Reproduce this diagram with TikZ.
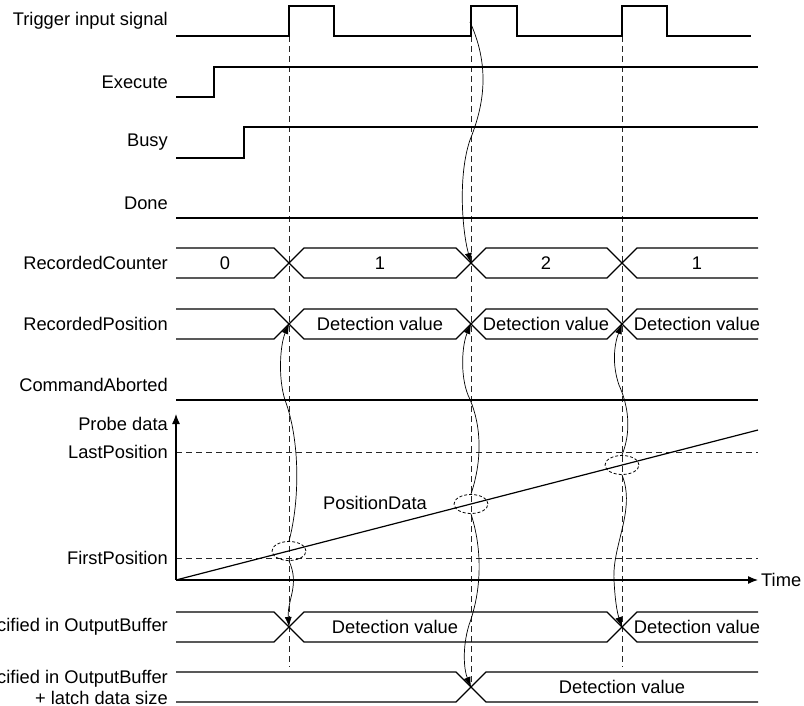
\documentclass[tikz,border=0pt]{standalone}
\usepackage{fontspec}
\setmainfont{Liberation Sans}
\usetikzlibrary{shapes.geometric}
\usetikzlibrary{arrows.meta}
\usetikzlibrary{positioning}

\begin{document}
\begin{tikzpicture}[x=1pt, y=-1pt, font=\fontsize{18.3}{21}\selectfont,
    sig/.style={line width=1.2pt},
    lbl/.style={anchor=east, inner sep=0pt},
    guide/.style={dash pattern=on 6pt off 4pt, line width=0.8pt, black!85},
    wave/.style={-{Latex[length=10pt, width=7pt]}, line width=0.7pt},
    spot/.style={ellipse, draw, dash pattern=on 3pt off 2pt, line width=0.8pt, minimum width=34pt, minimum height=19pt, inner sep=0pt}]
  \useasboundingbox (0,0) rectangle (804,706);

  % signal names
  \node[lbl] (trig) at (168,21) {Trigger input signal};
  \node[lbl] (exec) at (168,82) {Execute};
  \node[lbl] (busy) at (168,142) {Busy};
  \node[lbl] (done) at (168,203) {Done};
  \node[lbl] (cnt) at (168,263) {RecordedCounter};
  \node[lbl] (pos) at (168,324) {RecordedPosition};
  \node[lbl] (abort) at (168,385) {CommandAborted};
  \node[lbl] (probe) at (168,424) {Probe data};
  \node[lbl] (lastpos) at (168,452) {LastPosition};
  \node[lbl] (firstpos) at (168,558) {FirstPosition};
  \node[lbl] (obuf) at (168,627) {Specified in OutputBuffer};
  \node[lbl, align=right] (obuflatch) at (168,687) {Specified in OutputBuffer\\+ latch data size};

  % guides
  \foreach \x/\e in {289/667, 471/687, 622/667}
    \draw[guide] (\x,36) -- (\x,\e);
  \draw[guide] (176,452) -- (758,452);
  \draw[guide] (176,558) -- (758,558);

  % bit signals
  \draw[sig] (176,36) -- (289,36) -- (289,6) -- (334,6) -- (334,36) -- (471,36) -- (471,6) -- (517,6) -- (517,36)
    -- (622,36) -- (622,6) -- (667,6) -- (667,36) -- (751,36);
  \draw[sig] (176,97) -- (214,97) -- (214,67) -- (758,67);
  \draw[sig] (176,158) -- (244,158) -- (244,127) -- (758,127);
  \draw[sig] (176,218) -- (758,218);
  \draw[sig] (176,400) -- (758,400);

  % buses
  \foreach \t in {248,309} {
    \draw[sig] (176,\t) -- (274,\t) -- (304,\t+30) -- (456,\t+30) -- (486,\t) -- (607,\t) -- (637,\t+30) -- (758,\t+30);
    \draw[sig] (176,\t+30) -- (274,\t+30) -- (304,\t) -- (456,\t) -- (486,\t+30) -- (607,\t+30) -- (637,\t) -- (758,\t);
  }
  \draw[sig] (176,612) -- (274,612) -- (304,642) -- (607,642) -- (637,612) -- (758,612);
  \draw[sig] (176,642) -- (274,642) -- (304,612) -- (607,612) -- (637,642) -- (758,642);
  \draw[sig] (176,672) -- (456,672) -- (486,702) -- (758,702);
  \draw[sig] (176,702) -- (456,702) -- (486,672) -- (758,672);

  \node (c0) at (225,263) {0};
  \node (c1) at (380,263) {1};
  \node (c2) at (546,263) {2};
  \node (c3) at (697,263) {1};
  \node (p1) at (380,324) {Detection value};
  \node (p2) at (546,324) {Detection value};
  \node (p3) at (697,324) {Detection value};
  \node (o1) at (395,627) {Detection value};
  \node (o2) at (697,627) {Detection value};
  \node (o3) at (622,687) {Detection value};

  % probe data graph
  \coordinate (origin) at (176,580);
  \coordinate (tend) at (758,580);
  \draw[sig, -{Latex[length=10pt, width=8pt]}] (origin) -- (176,414);
  \draw[sig, -{Latex[length=10pt, width=8pt]}] (origin) -- (tend);
  \node[right=3pt of tend, inner sep=0pt] (time) {Time};
  \draw[sig] (origin) -- (758,430);
  \node (posdata) at (375,503) {PositionData};

  \node[spot] (e1) at (289,551) {};
  \node[spot] (e2) at (471,504) {};
  \node[spot] (e3) at (622,465) {};

  % latch points
  \coordinate (tr2) at (470,22);
  \coordinate (rc2) at (471,263);
  \coordinate (rp1) at (289,324);
  \coordinate (rp2) at (471,324);
  \coordinate (rp3) at (622,324);
  \coordinate (ob1) at (289,627);
  \coordinate (ob2) at (471,687);
  \coordinate (ob3) at (622,627);

  \draw[wave] (tr2) .. controls (492,70) and (482,110) .. (470,140) .. controls (458,175) and (462,230) .. (rc2);
  \draw[wave] (e1.north) .. controls (300,500) and (300,440) .. (285,400) .. controls (278,378) and (280,345) .. (rp1);
  \draw[wave] (e1.south) .. controls (300,585) and (287,600) .. (ob1);
  \draw[wave] (e2.north) .. controls (484,455) and (480,420) .. (468,395) .. controls (460,375) and (462,345) .. (rp2);
  \draw[wave] (e2.south) .. controls (484,555) and (480,595) .. (469,625) .. controls (462,648) and (464,670) .. (ob2);
  \draw[wave] (e3.north) .. controls (632,430) and (628,405) .. (619,385) .. controls (612,365) and (614,345) .. (rp3);
  \draw[wave] (e3.south) .. controls (636,510) and (612,545) .. (614,580) .. controls (615,600) and (617,612) .. (ob3);
\end{tikzpicture}
\end{document}
